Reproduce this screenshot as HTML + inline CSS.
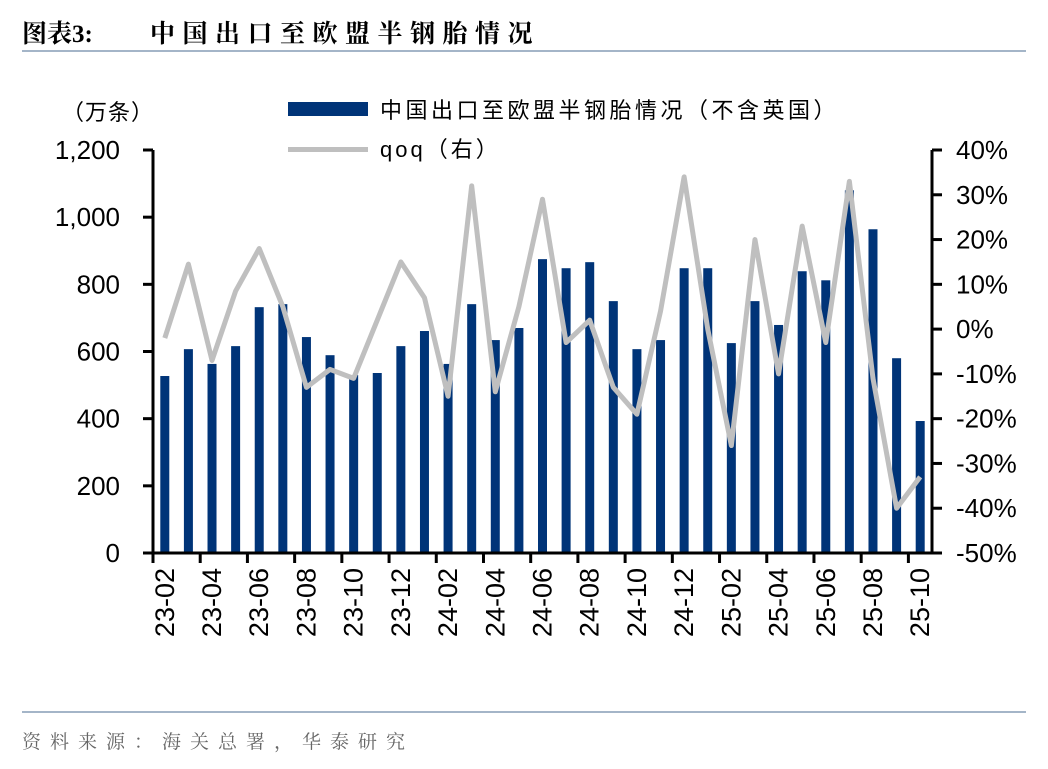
<!DOCTYPE html>
<html><head><meta charset="utf-8"><style>
body{margin:0;background:#fff;width:1048px;height:764px;overflow:hidden;font-family:"Liberation Sans","Noto Sans CJK SC",sans-serif}
</style></head><body>
<svg width="1048" height="764" xmlns="http://www.w3.org/2000/svg" id="svg" font-family="Liberation Sans, Noto Sans CJK SC, sans-serif">
<text x="22" y="42" font-size="25" font-weight="bold" fill="#000" font-family="Liberation Serif, Noto Serif CJK SC, serif"><tspan>图表3:</tspan><tspan x="150" letter-spacing="7.5">中国出口至欧盟半钢胎情况</tspan></text>
<rect x="22" y="50" width="1004" height="2" fill="#a4b5c8"/>
<rect x="22" y="711" width="1004" height="2" fill="#a4b5c8"/>
<text x="22" y="748" font-size="19" fill="#666" letter-spacing="9" font-family="Liberation Serif, Noto Serif CJK SC, serif">资料来源：海关总署，华泰研究</text>
<text x="62" y="120" font-size="22" fill="#000" letter-spacing="1">（万条）</text>
<rect x="288" y="102" width="80" height="14" fill="#003478"/>
<text x="380" y="118" font-size="22" fill="#000" letter-spacing="3.5">中国出口至欧盟半钢胎情况（不含英国）</text>
<rect x="288" y="147" width="80" height="5" fill="#bfbfbf"/>
<text x="380" y="157" font-size="22" fill="#000" letter-spacing="3">qoq（右）</text>
<g id="plot"></g>
</svg>
<script>
const categories=['23-02','23-03','23-04','23-05','23-06','23-07','23-08','23-09','23-10','23-11','23-12','24-01','24-02','24-03','24-04','24-05','24-06','24-07','24-08','24-09','24-10','24-11','24-12','25-01','25-02','25-03','25-04','25-05','25-06','25-07','25-08','25-09','25-10'];
const exportsVol=[527,607,563,616,732,741,643,589,530,536,616,661,563,741,634,670,875,848,866,750,607,634,848,848,625,750,679,839,812,1080,964,580,393];
const qoq=[-2,14.5,-7,8.5,18,5,-13,-9,-11,2,15,7,-15,32,-14,5,29,-3,2,-13,-19,4,34,0,-26,20,-10,23,-3,33,-11,-40,-33];
const leftTicks=[0,200,400,600,800,1000,1200];
const leftTickLabels=['0','200','400','600','800','1,000','1,200'];
const rightTicks=[-50,-40,-30,-20,-10,0,10,20,30,40];
const rightTickLabels=['-50%','-40%','-30%','-20%','-10%','0%','10%','20%','30%','40%'];
const X0=153,X1=932,Y0=553,Y1=150;
const step=(X1-X0)/categories.length;
const xc=i=>X0+step*(i+0.5);
const yl=v=>Y0-(v/1200)*(Y0-Y1);
const yr=v=>Y0-((v+50)/90)*(Y0-Y1);
const g=document.getElementById('plot');const NS='http://www.w3.org/2000/svg';
function mk(t,a){const e=document.createElementNS(NS,t);for(const k in a)e.setAttribute(k,a[k]);g.appendChild(e);return e;}
exportsVol.forEach((v,i)=>{const r=mk('rect',{x:xc(i)-4.5,y:yl(v),width:9,height:Y0-yl(v),fill:'#003478'});

});
const pl=mk('polyline',{points:qoq.map((v,i)=>xc(i)+','+yr(v)).join(' '),fill:'none',stroke:'#bfbfbf','stroke-width':5,'stroke-linejoin':'round'});


const la=mk('line',{x1:X0,y1:Y1,x2:X0,y2:Y0+1,stroke:'#000','stroke-width':3});


const ra=mk('line',{x1:X1,y1:Y1,x2:X1,y2:Y0+1,stroke:'#000','stroke-width':3});


const xa=mk('line',{x1:X0,y1:Y0,x2:X1,y2:Y0,stroke:'#000','stroke-width':3});


leftTicks.forEach((v,i)=>{mk('line',{x1:X0-10,y1:yl(v),x2:X0,y2:yl(v),stroke:'#000','stroke-width':3});
const t=mk('text',{x:X0-33,y:yl(v)+9,'text-anchor':'end','font-size':26});t.textContent=leftTickLabels[i];

});
rightTicks.forEach((v,i)=>{mk('line',{x1:X1,y1:yr(v),x2:X1+10,y2:yr(v),stroke:'#000','stroke-width':3});
const t=mk('text',{x:X1+24,y:yr(v)+9,'font-size':26});t.textContent=rightTickLabels[i];

});
categories.forEach((c,i)=>{if(i%2)return;const x=X0+step*i;
mk('line',{x1:x,y1:Y0,x2:x,y2:Y0+10,stroke:'#000','stroke-width':3});
const t=mk('text',{x:0,y:0,'text-anchor':'end','font-size':27,transform:`translate(${xc(i)+9},${Y0+15}) rotate(-90)`});t.textContent=c;

});
</script>
</body></html>
